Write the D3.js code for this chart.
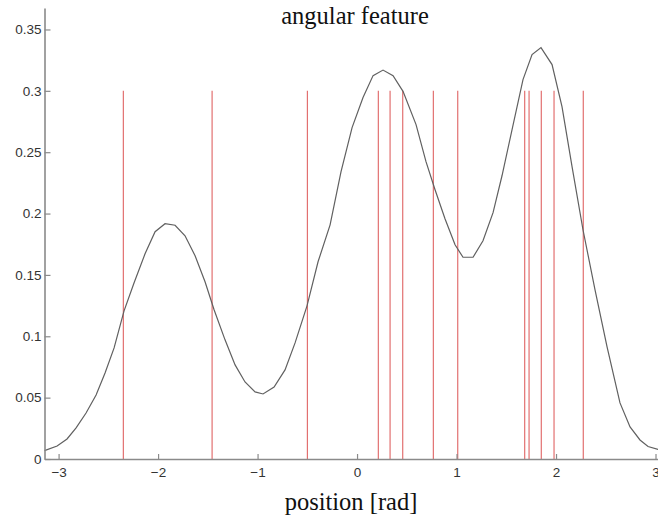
<!DOCTYPE html>
<html>
<head>
<meta charset="utf-8">
<script src="https://cdn.jsdelivr.net/npm/d3@7"></script>
<style>
  body { margin: 0; background: #fff; }
  svg { display: block; }
</style>
</head>
<body>
<svg id="chart" width="658" height="518"></svg>
<script>
// observed angles (red sticks), in rad
var spikes = [-2.349, -1.457, -0.499, 0.214, 0.332, 0.459, 0.767, 1.012,
  1.685, 1.729, 1.852, 1.98, 2.274];
var spikeHeight = 0.3;

// density curve
var curveX = [-3.1416, -3.015, -2.915, -2.824, -2.724, -2.623, -2.533, -2.442,
  -2.342, -2.241, -2.131, -2.03, -1.93, -1.829, -1.729, -1.628, -1.528, -1.437,
  -1.327, -1.226, -1.126, -1.025, -0.945, -0.834, -0.724, -0.623, -0.503, -0.392,
  -0.271, -0.161, -0.05, 0.06, 0.161, 0.261, 0.362, 0.462, 0.593, 0.693, 0.784,
  0.884, 0.985, 1.065, 1.166, 1.266, 1.367, 1.457, 1.558, 1.668, 1.759, 1.849,
  1.96, 2.06, 2.161, 2.271, 2.392, 2.513, 2.643, 2.744, 2.844, 2.925, 3.025, 3.1416];
var curveY = [0.0068, 0.0106, 0.0163, 0.0253, 0.0375, 0.0522, 0.0701, 0.0905,
  0.1207, 0.1436, 0.1672, 0.1852, 0.1917, 0.1905, 0.1819, 0.1656, 0.1444, 0.1216,
  0.0971, 0.0767, 0.0628, 0.0547, 0.053, 0.0587, 0.0726, 0.0946, 0.1248, 0.1607,
  0.1908, 0.2341, 0.27, 0.2945, 0.3124, 0.3169, 0.3124, 0.2996, 0.2725, 0.2423, 0.2194,
  0.1958, 0.1746, 0.1644, 0.1644, 0.1778, 0.2007, 0.2308, 0.2684, 0.3091, 0.3295, 0.3352,
  0.3214, 0.2871, 0.2382, 0.1868, 0.1378, 0.0914, 0.0457, 0.0261, 0.0155, 0.0102, 0.0078, 0.0068];

var xTicks = [-3, -2, -1, 0, 1, 2, 3];
var yTicks = [0, 0.05, 0.1, 0.15, 0.2, 0.25, 0.3, 0.35];

var svg = d3.select("#chart");

// plot area runs off the right edge like the original crop
var xScale = d3.scaleLinear().domain([-Math.PI, Math.PI]).range([44.5, 669.6]);
var yScale = d3.scaleLinear().domain([0, 0.3675]).range([459, 8]);

var axisColor = "#8a8a8a",
  labelColor = "#333";

// red sticks
svg.append("g")
  .attr("class", "spikes")
  .selectAll("line")
  .data(spikes)
  .enter()
  .append("line")
  .attr("x1", function (d) { return xScale(d); })
  .attr("x2", function (d) { return xScale(d); })
  .attr("y1", yScale(0))
  .attr("y2", yScale(spikeHeight))
  .attr("stroke", "#e27070")
  .attr("stroke-width", 1.2);

// density curve
var pts = curveX.map(function (d, i) { return [d, curveY[i]]; });
var line = d3.line()
  .x(function (d) { return xScale(d[0]); })
  .y(function (d) { return yScale(d[1]); });

svg.append("path")
  .datum(pts)
  .attr("fill", "none")
  .attr("stroke", "#606060")
  .attr("stroke-width", 1.2)
  .attr("d", line);

// axes, ticks pointing inward
var xAxis = svg.append("g")
  .attr("transform", "translate(0," + yScale(0) + ")")
  .call(d3.axisBottom(xScale).tickValues(xTicks).tickSizeInner(-5).tickSizeOuter(0)
    .tickPadding(8).tickFormat(d3.format("d")));

var yAxis = svg.append("g")
  .attr("transform", "translate(" + xScale(-Math.PI) + ",0)")
  .call(d3.axisLeft(yScale).tickValues(yTicks).tickSizeInner(-6).tickSizeOuter(0)
    .tickPadding(3).tickFormat(d3.format("~g")));

[xAxis, yAxis].forEach(function (ax) {
  ax.select(".domain").attr("stroke", axisColor).attr("stroke-width", 1.6);
  ax.selectAll(".tick line").attr("stroke", axisColor).attr("stroke-width", 1.2);
  ax.selectAll(".tick text")
    .attr("fill", labelColor)
    .style("font-family", "Arial, 'Liberation Sans', sans-serif")
    .style("font-size", "13.5px");
});

// titles
svg.append("text")
  .attr("x", 355)
  .attr("y", 24)
  .attr("text-anchor", "middle")
  .style("font-family", "'Times New Roman', 'Liberation Serif', serif")
  .style("font-size", "24.5px")
  .attr("fill", "#111")
  .text("angular feature");

svg.append("text")
  .attr("x", 351)
  .attr("y", 510)
  .attr("text-anchor", "middle")
  .style("font-family", "'Times New Roman', 'Liberation Serif', serif")
  .style("font-size", "24.5px")
  .attr("fill", "#111")
  .text("position [rad]");
</script>
</body>
</html>
